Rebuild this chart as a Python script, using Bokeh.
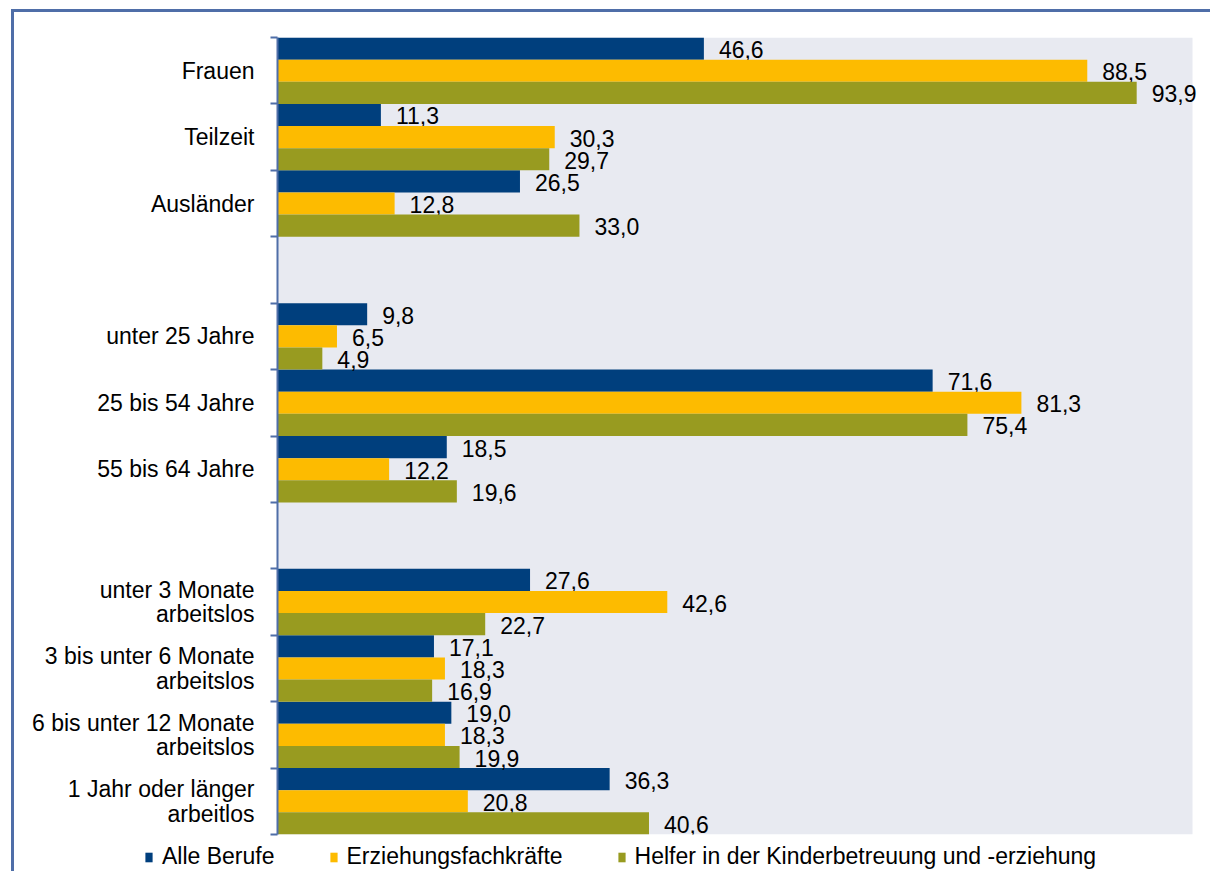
from bokeh.plotting import figure
from bokeh.layouts import column
from bokeh.models import (Range1d, FactorRange, CategoricalAxis, LinearAxis, FixedTicker,
                          Legend, LegendItem, ColumnDataSource, BoxAnnotation)
from bokeh.transform import dodge
from bokeh.embed import file_html
from bokeh.resources import INLINE
from bokeh.core.properties import value

# ---- data ----
categories = ["Frauen", "Teilzeit", "Ausländer",
              "unter 25 Jahre", "25 bis 54 Jahre", "55 bis 64 Jahre",
              "unter 3 Monate\narbeitslos", "3 bis unter 6 Monate\narbeitslos",
              "6 bis unter 12 Monate\narbeitslos", "1 Jahr oder länger\narbeitlos"]
# slot order from top to bottom, blank slots separate the groups
slots = ["Frauen", "Teilzeit", "Ausländer", " ",
         "unter 25 Jahre", "25 bis 54 Jahre", "55 bis 64 Jahre", "  ",
         "unter 3 Monate\narbeitslos", "3 bis unter 6 Monate\narbeitslos",
         "6 bis unter 12 Monate\narbeitslos", "1 Jahr oder länger\narbeitlos"]
series_names = ["Alle Berufe", "Erziehungsfachkräfte",
                "Helfer in der Kinderbetreuung und -erziehung"]
alle_berufe = [46.6, 11.3, 26.5, 9.8, 71.6, 18.5, 27.6, 17.1, 19.0, 36.3]
erziehung = [88.5, 30.3, 12.8, 6.5, 81.3, 12.2, 42.6, 18.3, 18.3, 20.8]
helfer = [93.9, 29.7, 33.0, 4.9, 75.4, 19.6, 22.7, 16.9, 19.9, 40.6]
series_values = [alle_berufe, erziehung, helfer]
colors = ["#003F7D", "#FDBB00", "#989B20"]
offsets = [1/3, 0.0, -1/3]

FONT = "Liberation Sans"
AXIS_COLOR = "#4F6EA8"
PLOT_BG = "#E8EAF1"

X_MAX = 100          # value axis 0..100 (the shaded plot area)
FRAME_W = 928        # frame a little wider than the shaded area so labels are not cut
SHADE_W = 915

cat_range = FactorRange(factors=list(reversed(slots)))

p = figure(width=1196, height=824, output_backend="svg", toolbar_location=None,
           x_range=Range1d(0, X_MAX * FRAME_W / SHADE_W), y_range=cat_range,
           y_axis_location=None,
           min_border_left=263, min_border_right=1196 - 263 - FRAME_W,
           min_border_top=25, min_border_bottom=2)

p.background_fill_color = "white"
p.border_fill_color = "white"
p.outline_line_color = None
p.grid.visible = False
p.xaxis.visible = False
p.add_layout(BoxAnnotation(left=0, right=X_MAX, fill_color=PLOT_BG, fill_alpha=1,
                           line_color=None, level="underlay"))

# boundary tick axis (no labels), closest to the frame
tick_axis = LinearAxis(ticker=FixedTicker(ticks=list(range(len(slots) + 1))))
tick_axis.major_label_text_font_size = "0px"
tick_axis.major_label_standoff = 0
tick_axis.major_tick_out = 7
tick_axis.major_tick_in = 0
tick_axis.minor_tick_line_color = None
tick_axis.axis_line_color = AXIS_COLOR
tick_axis.axis_line_width = 2
tick_axis.major_tick_line_color = AXIS_COLOR
tick_axis.major_tick_line_width = 2
p.add_layout(tick_axis, "left")

cat_axis = CategoricalAxis()
cat_axis.axis_line_color = None
cat_axis.major_tick_line_color = None
cat_axis.minor_tick_line_color = None
cat_axis.major_tick_out = 0
cat_axis.major_tick_in = 0
cat_axis.major_label_text_font = FONT
cat_axis.major_label_text_font_size = "23px"
cat_axis.major_label_text_color = "black"
cat_axis.major_label_text_line_height = 0.95
cat_axis.major_label_standoff = 16
p.add_layout(cat_axis, "left")

for name, vals, col, off in zip(series_names, series_values, colors, offsets):
    src = ColumnDataSource(dict(
        cat=categories, val=vals,
        lbl=[f"{v:.1f}".replace(".", ",") for v in vals]))
    p.hbar(y=dodge("cat", off, range=cat_range), left=0, right="val",
           height=1/3, fill_color=col, line_color=None, source=src)
    p.text(x="val", y=dodge("cat", off, range=cat_range), text="lbl",
           x_offset=15, y_offset=1, text_baseline="middle", text_align="left",
           text_font=value(FONT), text_font_size="23px", text_color="black",
           source=src)

# ---- legend strip below the chart ----
lg = figure(width=1196, height=35, output_backend="svg", toolbar_location=None,
            x_range=Range1d(0, 1), y_range=Range1d(0, 1),
            x_axis_location=None, y_axis_location=None,
            min_border_left=0, min_border_right=0,
            min_border_top=0, min_border_bottom=0)
if "frame_align" in lg.properties():
    lg.frame_align = False
lg.grid.visible = False
lg.outline_line_color = None
lg.background_fill_color = "white"
lg.border_fill_color = "white"

items = []
for name, col in zip(series_names, colors):
    # legend proxy glyph, kept outside the visible range
    r = lg.hbar(y=[-5], right=[0], left=0, height=0.5, fill_color=col, line_color=None)
    items.append(LegendItem(label=name, renderers=[r]))

legend = Legend(items=items, orientation="horizontal", location=(130, 1),
                spacing=54, label_standoff=9, glyph_width=9, glyph_height=12,
                label_height=26, padding=0, margin=0, border_line_color=None,
                background_fill_alpha=0,
                label_text_font=FONT, label_text_font_size="23px",
                label_text_color="black")
lg.add_layout(legend, "center")

layout = column(p, lg, spacing=0)
layout.styles = {"border-top": f"3px solid {AXIS_COLOR}",
                 "border-left": f"3px solid {AXIS_COLOR}",
                 "margin-left": "11px", "margin-top": "9px"}

open("out.html", "w").write(file_html(layout, INLINE))
